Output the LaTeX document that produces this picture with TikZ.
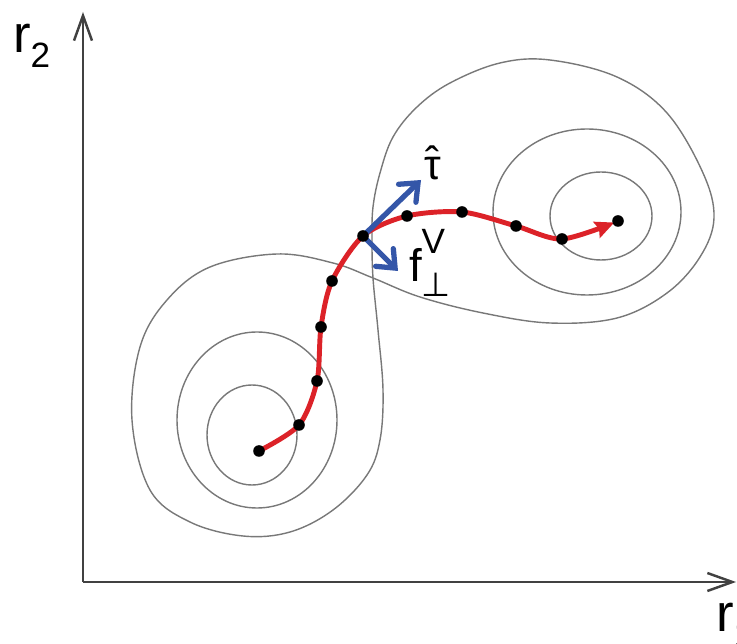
\documentclass[tikz,border=0pt]{standalone}
\usepackage{fontspec}
\setmainfont{Liberation Sans}
\newfontfamily\dejavu{DejaVu Sans}
\usepackage{xcolor}
\usepackage{tikz}
\usetikzlibrary{arrows.meta}

\definecolor{pathred}{RGB}{220,34,40}
\definecolor{forceblue}{RGB}{52,86,168}
\definecolor{contourgray}{RGB}{120,120,120}
\definecolor{axisgray}{RGB}{65,65,65}

\begin{document}
\begin{tikzpicture}[x=0.02cm, y=-0.02cm,
    axis/.style={draw=axisgray, line width=1.4pt, -{Straight Barb[length=0.5cm, width=0.36cm]}},
    contour/.style={draw=contourgray, line width=0.8pt},
    mep/.style={draw=pathred, line width=2.8pt, shorten >=0.08cm, -{Stealth[length=0.38cm, width=0.34cm, inset=0.05cm]}},
    force/.style={draw=forceblue, line width=3pt, line cap=round, -{Straight Barb[length=0.3cm, width=0.5cm, line cap=round]}},
    every node/.style={inner sep=0pt, outer sep=0pt}]

    \useasboundingbox (0,0) rectangle (737,644);

    % contour lines of the energy surface
    \draw[contour] (252,435) ellipse [x radius=45, y radius=50];
    \draw[contour] (257,420) ellipse [x radius=80, y radius=88];
    \draw[contour] (601,216) ellipse [x radius=51, y radius=44];
    \draw[contour] (587,212) ellipse [x radius=94, y radius=83];
    \draw[contour] plot[smooth cycle, tension=0.6] coordinates {
        (373,278) (378,330) (383,390) (380,440) (367,475) (333,510) (290,532)
        (243,536) (190,522) (150,490) (132,420) (140,347) (167,300) (210,267)
        (277,254) (333,263) (373,278) (420,297) (483,313) (550,323) (617,318)
        (667,293) (700,257) (714,218) (703,173) (667,113) (617,77) (550,60)
        (500,63) (450,83) (417,107) (393,137) (380,173) (373,207) (372,240)};

    % axes
    \coordinate (origin) at (83,582);
    \coordinate (xend) at (736,582);
    \coordinate (yend) at (83,12);
    \draw[axis] (origin) -- (xend);
    \draw[axis] (origin) -- (yend);
    \node (rtwo) [anchor=base west, font=\fontsize{30}{30}\selectfont] at (13,53) {r\raisebox{-8pt}{\fontsize{20}{20}\selectfont 2}};
    \node (rone) [anchor=base west, font=\fontsize{30}{30}\selectfont] at (716,632) {r\raisebox{-8pt}{\fontsize{20}{20}\selectfont 1}};

    % images along the path
    \coordinate (p0) at (259,451);
    \coordinate (p1) at (299,425);
    \coordinate (p2) at (317,381);
    \coordinate (p3) at (321,327);
    \coordinate (p4) at (332,281);
    \coordinate (p5) at (363,236);
    \coordinate (p6) at (407,216);
    \coordinate (p7) at (462,212);
    \coordinate (p8) at (516,226);
    \coordinate (p9) at (562,239);
    \coordinate (p10) at (618,221);
    \draw[mep] plot[smooth] coordinates {(p0) (p1) (p2) (p3) (p4) (p5) (p6) (p7) (p8) (p9) (p10)};

    % forces at one image
    \coordinate (tauend) at (421,180);
    \coordinate (fend) at (398,271);
    \draw[force] (p5) -- (tauend);
    \draw[force] (p5) -- (fend);

    \foreach \p in {p0,p1,p2,p3,p4,p5,p6,p7,p8,p9,p10}
        \fill (\p) circle [radius=5.8];

    \node (tau) [anchor=base west, font=\fontsize{24}{24}\selectfont] at (424,180) {\ooalign{τ\cr\hidewidth\raisebox{2pt}{ˆ}\hidewidth\cr}};
    \node (fperp) [anchor=base west, font=\fontsize{26}{26}\selectfont] at (409,282) {f\rlap{\raisebox{16.5pt}{\fontsize{20}{20}\selectfont V}}\raisebox{-8.5pt}{\fontsize{19}{19}\selectfont\dejavu ⊥}};
\end{tikzpicture}
\end{document}
